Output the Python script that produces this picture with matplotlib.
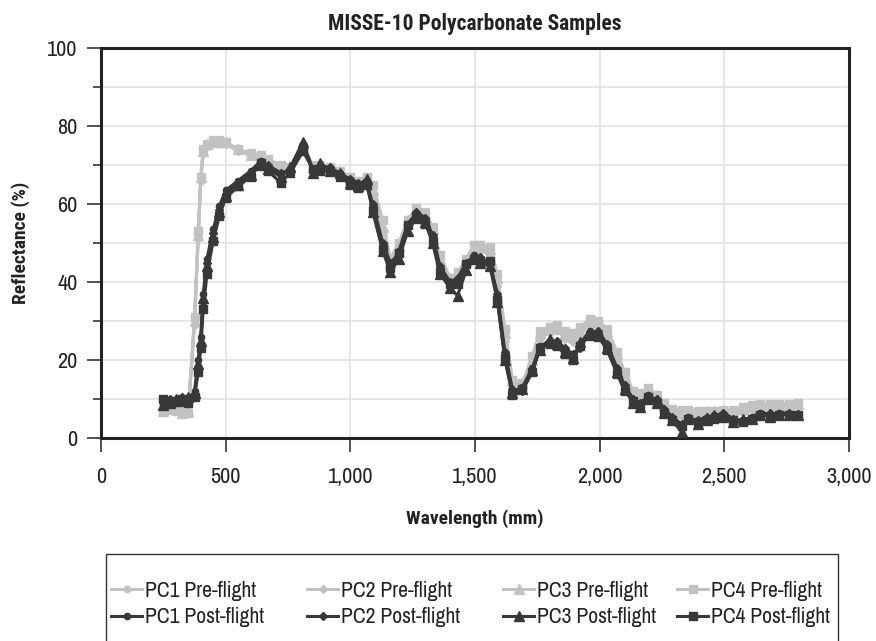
import matplotlib
matplotlib.use("Agg")
import matplotlib.pyplot as plt
from matplotlib.patches import Rectangle
from matplotlib.ticker import FuncFormatter, MultipleLocator

plt.rcParams["font.family"] = ["Liberation Sans Narrow", "Arial Narrow", "Archivo Narrow",
                               "Liberation Sans", "DejaVu Sans"]
BOLD_FAMILY = ["Liberation Sans Narrow", "Arial Narrow", "Roboto Condensed", "PT Sans Narrow",
               "Open Sans Condensed", "Barlow Semi Condensed", "Liberation Sans", "DejaVu Sans"]

wavelength = [250, 275, 300, 325, 350, 375, 390, 400, 410, 425, 450, 475, 500, 550, 600,
              640, 670, 720, 760, 810, 850, 880, 920, 960, 1000, 1030, 1065, 1090, 1130, 1160,
              1195, 1230, 1265, 1300, 1330, 1360, 1400, 1430, 1465, 1495, 1520, 1560, 1590, 1620, 1650,
              1690, 1730, 1760, 1800, 1830, 1860, 1895, 1920, 1960, 1995, 2030, 2070, 2100, 2135, 2160,
              2195, 2230, 2260, 2290, 2330, 2355, 2395, 2430, 2460, 2495, 2535, 2575, 2610, 2645, 2685,
              2720, 2760, 2795]

pc1_pre = [7.5, 8, 7.5, 7, 7, 30, 52, 66, 73.5, 75, 76, 76, 75.5, 73.5, 72.5,
           72, 71, 69, 69, 74.5, 69.5, 69.5, 69, 68, 66.5, 65.5, 66.5, 63, 53, 45,
           49, 55.5, 58, 57, 52.5, 45, 40, 41.5, 45, 48, 48, 47.5, 40, 26, 14,
           13.5, 19.5, 26, 27.5, 27.5, 26, 25, 27, 29, 29, 26.5, 21, 15.5, 11, 10.5,
           12, 10.5, 8.5, 7, 6, 6.5, 6.5, 6.5, 6.5, 7, 6.5, 7, 7.5, 8, 8,
           8.2, 8.2, 8.3]
pc2_pre = [8, 7.5, 7, 7, 6.5, 29, 51, 66, 73, 75, 75.8, 76, 75.5, 73.5, 72.5,
           71.5, 71, 69.5, 69, 75, 69, 70, 69, 68, 66, 65.5, 66, 62, 52, 45.5,
           48.5, 55, 58.5, 57.5, 53, 44, 40.5, 41, 45.5, 48.5, 48.5, 47, 39, 25, 13.5,
           14, 19, 25.5, 27, 28, 25.5, 24.5, 26.5, 29.5, 29.5, 26, 20.5, 15, 11, 10,
           11.5, 10.5, 8, 6.5, 5.5, 6, 6.5, 6, 6.5, 6.5, 6.5, 6.5, 7.5, 8, 8,
           8, 8.2, 8]
pc3_pre = [7, 7.5, 7.5, 6.5, 7, 30, 52, 67, 73.5, 75.5, 76, 76, 75.8, 74, 72.5,
           72, 71, 69.5, 69.5, 75.5, 69.5, 70, 69, 68.5, 66.5, 65.5, 66.5, 63.5, 54, 45,
           49.5, 56, 58.5, 57.5, 53.5, 46, 41, 42, 45.5, 49, 49, 48.5, 41, 27, 14.5,
           14, 20, 27, 28, 28.5, 27, 26, 27.5, 30, 29.5, 27.5, 21.5, 16, 11.5, 11,
           12, 11, 8.5, 7, 6.5, 7, 6.5, 7, 7, 7, 7, 7.5, 8, 8.5, 8.5,
           8.5, 8.5, 8.7]
pc4_pre = [7.5, 7.5, 7, 6.5, 6.5, 31, 53, 67, 74, 75.5, 76.3, 76.3, 76, 74, 73,
           72.5, 71.5, 70, 69.5, 74, 70, 70, 69.5, 68.5, 67, 66, 67, 65, 56, 46,
           50, 56, 59, 58, 54, 47, 41, 42.5, 46, 49.5, 49.5, 49, 42, 28, 15,
           14, 21, 27.5, 28.5, 29, 27.5, 27, 28.5, 30.5, 30, 28, 22, 17, 12, 11.5,
           12.8, 11, 9, 7.5, 7.2, 7.2, 7, 7, 7, 7.2, 7.2, 8, 8.5, 8.7, 8.7,
           8.8, 8.8, 9]

pc1_post = [9.0, 9.5, 9.0, 9.8, 9.5, 12, 20, 26, 37, 46, 53.5, 59.5, 63.5, 66, 68.5,
            71, 69.5, 67.5, 69, 74.5, 68.5, 70, 69, 68, 66, 65, 66, 59, 49, 44,
            48, 55, 57.5, 56, 51, 43, 39, 40, 44, 47, 46, 45, 36, 21, 12,
            13, 18, 23.5, 25, 24.5, 22.5, 21, 24, 27.5, 27, 23.5, 17.5, 13, 9.5, 8.5,
            11, 9.5, 7, 5, 2.5, 5.5, 4, 5, 6, 6, 4.5, 4.5, 5.5, 6.5, 6,
            6.5, 6.2, 6]
pc2_post = [9.5, 10, 9.5, 10.5, 10, 11, 18, 24, 35, 45, 52.5, 58.5, 62.5, 65.5, 68,
            70.5, 70, 68, 68.5, 75.5, 69, 69.5, 69.5, 67.5, 66.5, 65.5, 65.5, 60, 50, 45,
            47, 54, 58, 56.5, 52, 44, 40, 41, 45, 46.5, 46.5, 44.5, 37, 22, 12.5,
            12, 17, 23, 24.5, 25, 23, 21.5, 23, 27, 27.5, 24, 18, 13.5, 10, 9,
            10.5, 10, 7.5, 5.5, 3.5, 5, 4.5, 5.5, 5.5, 6.5, 5, 4, 5, 6, 6.5,
            6, 6.5, 6.2]
pc3_post = [8.5, 9, 10, 9.5, 10.5, 11.5, 19, 25, 36, 44, 51.5, 58, 62, 65, 67.5,
            70, 69, 67, 69.5, 76, 68, 70.5, 68.5, 68, 65.5, 64.5, 66.5, 58, 48, 42.5,
            46, 53, 56.5, 55.5, 50, 42, 38.5, 36.5, 43, 46, 45, 44, 35, 20, 11.5,
            12.5, 17.5, 22.5, 25.5, 24, 22, 20.5, 24.5, 26.5, 26.5, 23, 17, 12.5, 9, 8,
            10, 9, 6.5, 4.5, 1.5, 5, 3.5, 4.5, 6, 5.5, 4, 5, 5, 6, 5.5,
            6, 6, 5.8]
pc4_post = [10, 9, 9.5, 10, 9, 10.5, 17, 23, 33, 42, 50.5, 57, 61.5, 64.5, 67,
            70.5, 68.5, 65.5, 68, 73.5, 69, 68.5, 68.5, 67, 65, 64, 65, 58.5, 48.5, 43.5,
            47.5, 54.5, 57, 55, 50.5, 42.5, 39.5, 39.5, 44.5, 46, 45.5, 45.5, 35.5, 20.5, 11,
            12.5, 17, 23, 24, 23.5, 21.5, 20, 23.5, 26.5, 26, 22.5, 16.5, 12, 9.5, 8.5,
            10.5, 9, 6.5, 4.5, 3, 5, 4, 4.5, 5, 5.5, 4.5, 4, 5, 6, 5.5,
            6, 6, 6]

samples = ["PC1", "PC2", "PC3", "PC4"]
pre_values = [pc1_pre, pc2_pre, pc3_pre, pc4_pre]
post_values = [pc1_post, pc2_post, pc3_post, pc4_post]
markers = ["o", "D", "^", "s"]
marker_sizes = [4.5, 4.5, 6.5, 6]

LIGHT = "#c2c2c2"
DARK = "#383838"
TEXT = "#222222"

fig = plt.figure(figsize=(8.76, 6.41), dpi=100)
ax = fig.add_axes([101 / 876, 1 - 438 / 641, 748 / 876, 390 / 641])

pre_lines = []
post_lines = []
for name, vals, m, ms in zip(samples, pre_values, markers, marker_sizes):
    line, = ax.plot(wavelength, vals, color=LIGHT, marker=m, ms=ms, lw=2.2,
                    label=f"{name} Pre-flight", zorder=2)
    pre_lines.append(line)
for name, vals, m, ms in zip(samples, post_values, markers, marker_sizes):
    line, = ax.plot(wavelength, vals, color=DARK, marker=m, ms=ms, lw=2.2,
                    label=f"{name} Post-flight", zorder=3)
    post_lines.append(line)

ax.set_xlim(0, 3000)
ax.set_ylim(0, 100)
ax.set_xticks(range(0, 3001, 500))
ax.xaxis.set_major_formatter(FuncFormatter(lambda v, _: f"{int(v):,}"))
ax.set_yticks(range(0, 101, 20))
ax.yaxis.set_minor_locator(MultipleLocator(10))

ax.set_axisbelow(True)
ax.grid(True, which="major", color="#e2e2e2", lw=1.2)
ax.yaxis.grid(True, which="minor", color="#e2e2e2", lw=1.2)

for sp in ax.spines.values():
    sp.set_linewidth(2.2)
    sp.set_color(TEXT)

ax.tick_params(which="major", length=10, width=1.2, color="#333333",
               labelsize=16, labelcolor=TEXT, pad=7)
ax.tick_params(axis="x", which="major", pad=11)
ax.tick_params(which="minor", length=6, width=1.2, color="#333333")

ax.set_title("MISSE-10 Polycarbonate Samples", fontsize=15.5, fontweight="bold",
             family=BOLD_FAMILY, color=TEXT, pad=13)
ax.set_xlabel("Wavelength (mm)", fontsize=14, fontweight="bold", family=BOLD_FAMILY,
              color=TEXT, labelpad=16)
ax.set_ylabel("Reflectance (%)", fontsize=14, fontweight="bold", family=BOLD_FAMILY,
              color=TEXT, labelpad=12)

# legend: one small legend per sample, pre-flight above post-flight
legend_x = [111, 307, 503, 677]
for x, pre, post in zip(legend_x, pre_lines, post_lines):
    leg = fig.legend([pre, post], [pre.get_label(), post.get_label()],
                     loc="upper left", bbox_to_anchor=(x / 876, 1 - 581 / 641),
                     frameon=False, borderaxespad=0, borderpad=0,
                     fontsize=15.5, handlelength=1.45, handletextpad=0.15,
                     labelspacing=0.3)
    for t in leg.get_texts():
        t.set_color(TEXT)

# legend box, open at the bottom edge of the image
fig.patches.append(Rectangle((106 / 876, -0.05), 732 / 876, 0.05 + 1 - 554 / 641,
                             transform=fig.transFigure, fill=False,
                             edgecolor="#333333", lw=1.0))

fig.savefig("out.png", dpi=100)
